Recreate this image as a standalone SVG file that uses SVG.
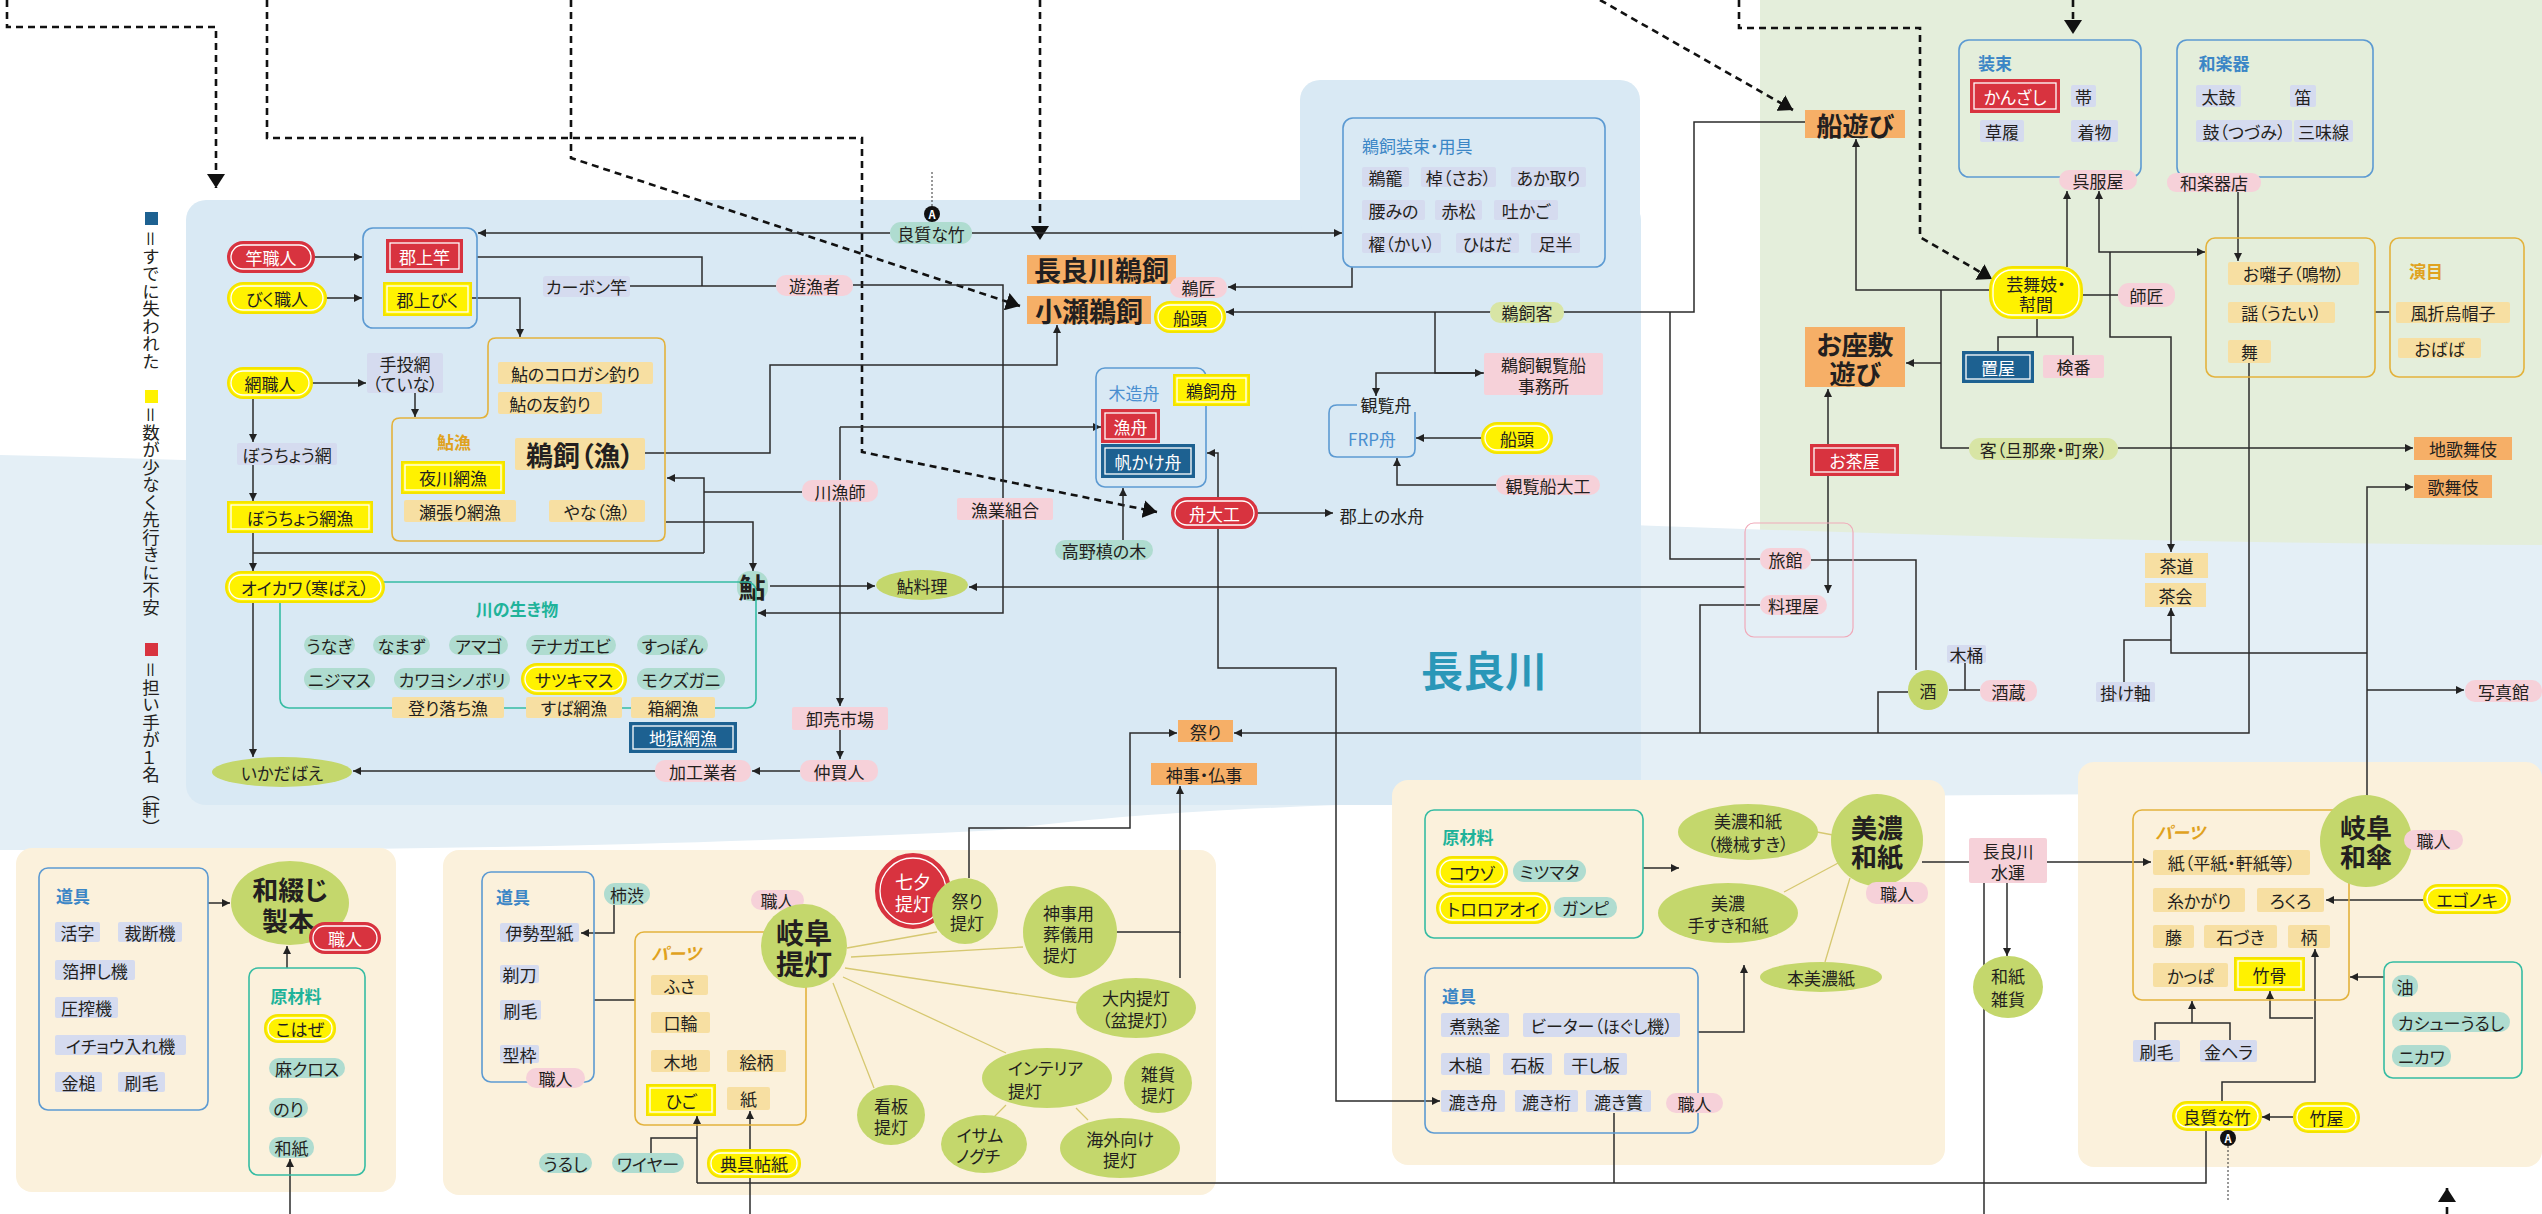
<svg xmlns="http://www.w3.org/2000/svg" width="2542" height="1214" viewBox="0 0 2542 1214">
<defs>
<style>
text{font-family:"Noto Sans CJK JP","Noto Sans",sans-serif;font-size:17px;fill:#231f20;text-anchor:middle;dominant-baseline:central;font-feature-settings:"palt"}
.b{font-weight:700}
.w{fill:#fff}
.big{font-size:27px;font-weight:700}
.h{font-weight:700;fill:#3b86c6}
.hg{font-weight:700;fill:#e0a21e}
.hi{font-weight:700;fill:#e0a21e;font-style:italic}
.ht{font-weight:700;fill:#1fb39a}
.st{text-anchor:start}
.pk{fill:#f6d1d9}
.gb{fill:#d5dbef}
.tl{fill:#afdcd0}
.bg{fill:#f7dfa2}
.or{fill:#f6af67}
.gr{fill:#c4d76c}
.lg{fill:#d8e5a5}
.ye{fill:#fff200;stroke:#f4e300;stroke-width:2}
.rd{fill:#d8333f;stroke:#d8333f;stroke-width:2}
.dk{fill:#1d6191;stroke:#1d6191;stroke-width:2}
.in{fill:none;stroke:#fff;stroke-width:1.3}
.bo{fill:none;stroke:#5c9ad2;stroke-width:1.6}
.go{fill:none;stroke:#e3b23c;stroke-width:1.6}
.to{fill:none;stroke:#36bca3;stroke-width:1.6}
.po{fill:none;stroke:#f0a9b9;stroke-width:1.2}
.ln{fill:none;stroke:#2b2b2b;stroke-width:1.5}
.tn{fill:none;stroke:#d6c870;stroke-width:1.3}
.dl{fill:none;stroke:#111;stroke-width:2.6;stroke-dasharray:7 5}
.dt{fill:none;stroke:#333;stroke-width:1;stroke-dasharray:2 2}
.vt{writing-mode:vertical-rl;text-anchor:start;font-size:17.5px}
</style>
<marker id="ar" viewBox="0 0 10 10" refX="10" refY="5" markerWidth="8" markerHeight="8" markerUnits="userSpaceOnUse" orient="auto-start-reverse"><path d="M0,0 L10,5 L0,10 z" fill="#222"/></marker>
<marker id="ad" viewBox="0 0 14 18" refX="14" refY="9" markerWidth="14" markerHeight="18" markerUnits="userSpaceOnUse" orient="auto"><path d="M0,0 L14,9 L0,18 z" fill="#111"/></marker>
</defs>

<g id="background">
<rect x="0" y="0" width="2542" height="1214" fill="#ffffff"/>
<rect x="1760" y="0" width="782" height="610" fill="#e4eedb"/>
<path d="M0,455 C700,470 1500,540 2542,545 V790 C1800,800 1300,790 1000,830 C600,850 300,850 0,850 Z" fill="#e4eff6"/>
<rect x="186" y="200" width="1455" height="605" rx="20" fill="#d9e9f4"/>
<rect x="1300" y="80" width="340" height="160" rx="20" fill="#d9e9f4"/>
<rect x="16" y="848" width="380" height="344" rx="16" fill="#fbf1dc"/>
<rect x="443" y="850" width="773" height="345" rx="16" fill="#fbf1dc"/>
<rect x="1392" y="780" width="553" height="385" rx="16" fill="#fbf1dc"/>
<rect x="2078" y="762" width="464" height="405" rx="16" fill="#fbf1dc"/>
<text x="1484" y="668" style="font-size:42px;font-weight:700;fill:#2a97b8">長良川</text>
</g>

<g id="legend">
<rect x="145" y="212" width="13" height="13" fill="#1d6191"/>
<text class="vt" x="151" y="230">＝すでに失われた</text>
<rect x="145" y="390" width="13" height="13" fill="#fff200"/>
<text class="vt" x="151" y="406">＝数が少なく先行きに不安</text>
<rect x="145" y="643" width="13" height="13" fill="#d8333f"/>
<text class="vt" x="151" y="661">＝担い手が１名（軒）</text>
</g>

<g id="connectors">
<path class="dl" d="M7,0 V27 H216 V188" marker-end="url(#ad)"/>
<path class="dl" d="M267,0 V138 H862 V452 L1157,512" marker-end="url(#ad)"/>
<path class="dl" d="M571,0 V158 L1020,306" marker-end="url(#ad)"/>
<path class="dl" d="M1040,0 V240" marker-end="url(#ad)"/>
<path class="dl" d="M1600,0 L1793,110" marker-end="url(#ad)"/>
<path class="dl" d="M1739,0 V28 H1920 V237 L1992,279" marker-end="url(#ad)"/>
<path class="dl" d="M2073,0 V34" marker-end="url(#ad)"/>
<path class="dl" d="M2447,1214 V1188" marker-end="url(#ad)"/>
<path class="dt" d="M932,172 V206"/>
<path class="dt" d="M2228,1146 V1200"/>

<path class="ln" d="M314,257 H362" marker-end="url(#ar)"/>
<path class="ln" d="M326,298 H362" marker-end="url(#ar)"/>
<path class="ln" d="M890,233 H478" marker-end="url(#ar)"/>
<path class="ln" d="M972,233 H1342" marker-end="url(#ar)"/>
<path class="ln" d="M477,257 H702 V286"/>
<path class="ln" d="M630,286 H776"/>
<path class="ln" d="M853,285 H1003 V613 H758" marker-end="url(#ar)"/>
<path class="ln" d="M471,298 H520 V337" marker-end="url(#ar)"/>
<path class="ln" d="M312,383 H366" marker-end="url(#ar)"/>
<path class="ln" d="M415,393 V417" marker-end="url(#ar)"/>
<path class="ln" d="M253,398 V442" marker-end="url(#ar)"/>
<path class="ln" d="M253,465 V501" marker-end="url(#ar)"/>
<path class="ln" d="M253,532 V571" marker-end="url(#ar)"/>
<path class="ln" d="M253,602 V757" marker-end="url(#ar)"/>
<path class="ln" d="M802,492 H704"/>
<path class="ln" d="M704,553 V478 H667" marker-end="url(#ar)"/>
<path class="ln" d="M704,553 H253"/>
<path class="ln" d="M645,453 H770 V365 H1057 V325" marker-end="url(#ar)"/>
<path class="ln" d="M666,522 H753 V571" marker-end="url(#ar)"/>
<path class="ln" d="M840,427 V706" marker-end="url(#ar)"/>
<path class="ln" d="M840,427 H1101" marker-end="url(#ar)"/>
<path class="ln" d="M840,730 V759" marker-end="url(#ar)"/>
<path class="ln" d="M800,771 H752" marker-end="url(#ar)"/>
<path class="ln" d="M655,771 H353" marker-end="url(#ar)"/>
<path class="ln" d="M770,586 H875" marker-end="url(#ar)"/>
<path class="ln" d="M1745,587 H969" marker-end="url(#ar)"/>
<path class="ln" d="M1123,540 V488" marker-end="url(#ar)"/>
<path class="ln" d="M1207,453 H1218 V668 H1336 V1101 H1440" marker-start="url(#ar)" marker-end="url(#ar)"/>
<path class="ln" d="M1257,513 H1333" marker-end="url(#ar)"/>
<path class="ln" d="M1352,267 V287 H1228" marker-end="url(#ar)"/>
<path class="ln" d="M1805,122 H1694 V312 H1226" marker-end="url(#ar)"/>
<path class="ln" d="M1435,312 V373 H1483" marker-end="url(#ar)"/>
<path class="ln" d="M1484,373 H1376 V396" marker-end="url(#ar)"/>
<path class="ln" d="M1482,438 H1416" marker-end="url(#ar)"/>
<path class="ln" d="M1496,485 H1397 V458" marker-end="url(#ar)"/>
<path class="ln" d="M1760,559 H1670 V312"/>
<path class="ln" d="M1990,290 H1856 V139" marker-end="url(#ar)"/>
<path class="ln" d="M1941,290 V448 H1969"/>
<path class="ln" d="M1941,363 H1906" marker-end="url(#ar)"/>
<path class="ln" d="M1828,389 V593" marker-start="url(#ar)" marker-end="url(#ar)"/>
<path class="ln" d="M1811,560 H1916 V670"/>
<path class="ln" d="M1760,605 H1700 V733"/>
<path class="ln" d="M1908,692 H1878 V733"/>
<path class="ln" d="M2249,363 V733 H1234" marker-end="url(#ar)"/>
<path class="ln" d="M1949,690 H1980 M1965,663 V690"/>
<path class="ln" d="M2067,267 V191" marker-end="url(#ar)"/>
<path class="ln" d="M2099,191 V252 H2205" marker-start="url(#ar)" marker-end="url(#ar)"/>
<path class="ln" d="M2110,252 V337 H2171 V552" marker-end="url(#ar)"/>
<path class="ln" d="M2082,295 H2118"/>
<path class="ln" d="M2037,318 V337 M1998,352 V337 H2073 V355"/>
<path class="ln" d="M2238,192 V261" marker-end="url(#ar)"/>
<path class="ln" d="M2375,312 H2390"/>
<path class="ln" d="M2118,448 H2413" marker-end="url(#ar)"/>
<path class="ln" d="M2367,797 V487 H2413" marker-end="url(#ar)"/>
<path class="ln" d="M2367,653 H2171 V608" marker-end="url(#ar)"/>
<path class="ln" d="M2367,690 H2464" marker-end="url(#ar)"/>
<path class="ln" d="M2124,682 V640 H2171"/>
<path class="ln" d="M208,903 H230" marker-end="url(#ar)"/>
<path class="ln" d="M287,968 V946" marker-end="url(#ar)"/>
<path class="ln" d="M290,1214 V1159" marker-end="url(#ar)"/>
<path class="ln" d="M614,905 V933 H581" marker-end="url(#ar)"/>
<path class="ln" d="M594,1000 H635"/>
<path class="ln" d="M651,1153 V1138 H697"/>
<path class="ln" d="M697,1183 V1116" marker-end="url(#ar)"/>
<path class="ln" d="M750,1214 V1111" marker-end="url(#ar)"/>
<path class="ln" d="M697,1183 H2206 V1130"/>
<path class="ln" d="M1614,1113 V1183"/>
<path class="ln" d="M969,878 V828 H1130 V733 H1177" marker-end="url(#ar)"/>
<path class="ln" d="M1116,932 H1180 V786" marker-end="url(#ar)"/>
<path class="ln" d="M1180,932 V978"/>
<path class="ln" d="M1643,868 H1679" marker-end="url(#ar)"/>
<path class="ln" d="M1698,1032 H1744 V965" marker-end="url(#ar)"/>
<path class="ln" d="M1922,862 H1969"/>
<path class="ln" d="M2047,862 H2151" marker-end="url(#ar)"/>
<path class="ln" d="M2007,883 V956" marker-end="url(#ar)"/>
<path class="ln" d="M1984,883 V1214"/>
<path class="ln" d="M2424,900 H2326" marker-end="url(#ar)"/>
<path class="ln" d="M2384,977 H2350" marker-end="url(#ar)"/>
<path class="ln" d="M2155,1040 V1023 H2230 V1040"/>
<path class="ln" d="M2192,1023 V1001" marker-end="url(#ar)"/>
<path class="ln" d="M2222,1102 V1082 H2315 V949" marker-end="url(#ar)"/>
<path class="ln" d="M2313,1018 H2270 V991" marker-end="url(#ar)"/>
<path class="ln" d="M2294,1117 H2262" marker-end="url(#ar)"/>
<path class="tn" d="M847,948 L937,932 M851,957 L1023,947 M845,968 L1078,1003 M843,977 L1006,1053 M833,983 L874,1088 M1006,1105 L994,1117 M1076,1108 L1088,1120"/>
<path class="tn" d="M1833,835 L1817,832 M1840,862 L1784,892 M1850,878 L1825,962"/>
</g>

<g id="n-group-gujo"><rect class="bo" x="363" y="228" width="114" height="100" rx="10" fill="#e4f0f8"/></g>
<g id="n-saoshokunin"><rect class="rd" x="228" y="242" width="86" height="30" rx="15"/><rect class="in" x="231" y="245" width="80" height="24" rx="12"/><text class="w" x="271" y="257">竿職人</text></g>
<g id="n-bikushokunin"><rect class="ye" x="228" y="283" width="98" height="30" rx="15"/><rect class="in" x="231" y="286" width="92" height="24" rx="12"/><text x="277" y="298">びく職人</text></g>
<g id="n-gujozao"><rect class="rd" x="387" y="240" width="75" height="32"/><rect class="in" x="390" y="243" width="69" height="26"/><text class="w" x="424.5" y="256">郡上竿</text></g>
<g id="n-gujobiku"><rect class="ye" x="384" y="283" width="87" height="32"/><rect class="in" x="387" y="286" width="81" height="26"/><text x="427.5" y="299">郡上びく</text></g>
<g id="n-carbon"><rect class="gb" x="543" y="276" width="87" height="21" rx="3"/><text x="586.5" y="286.5">カーボン竿</text></g>
<g id="n-yugyosha"><rect class="pk" x="776" y="275" width="77" height="21" rx="10"/><text x="814.5" y="285.5">遊漁者</text></g>
<g id="n-take1"><rect class="tl" x="890" y="222" width="82" height="22" rx="11"/><text x="931" y="233">良質な竹</text><circle cx="932" cy="214" r="8" fill="#111"/><text x="932" y="214" style="font-size:11px;font-weight:700;fill:#fff">A</text></g>
<g id="n-nagaragawaukai"><rect class="or" x="1027" y="255" width="149" height="29"/><text class="big" x="1101.5" y="269.5">長良川鵜飼</text></g>
<g id="n-oseukai"><rect class="or" x="1027" y="296" width="124" height="28"/><text class="big" x="1089" y="310">小瀬鵜飼</text></g>
<g id="n-usho"><rect class="pk" x="1170" y="277" width="57" height="21" rx="10"/><text x="1198.5" y="287.5">鵜匠</text></g>
<g id="n-sendo1"><rect class="ye" x="1155" y="302" width="70" height="30" rx="15"/><rect class="in" x="1158" y="305" width="64" height="24" rx="12"/><text x="1190" y="317">船頭</text></g>

<g id="n-ukaisozoku">
<rect class="bo" x="1343" y="118" width="262" height="149" rx="10" fill="#e6f1f8"/>
<text class="st" x="1362" y="145" style="fill:#3b86c6">鵜飼装束・用具</text>
<rect class="gb" x="1362" y="167" width="47" height="20" rx="2"/><text x="1385.5" y="177">鵜籠</text>
<rect class="gb" x="1421" y="167" width="75" height="20" rx="2"/><text x="1458.5" y="177">棹（さお）</text>
<rect class="gb" x="1511" y="167" width="75" height="20" rx="2"/><text x="1548.5" y="177">あか取り</text>
<rect class="gb" x="1362" y="200" width="63" height="20" rx="2"/><text x="1393.5" y="210">腰みの</text>
<rect class="gb" x="1435" y="200" width="47" height="20" rx="2"/><text x="1458.5" y="210">赤松</text>
<rect class="gb" x="1494" y="200" width="64" height="20" rx="2"/><text x="1526" y="210">吐かご</text>
<rect class="gb" x="1362" y="233" width="79" height="20" rx="2"/><text x="1401.5" y="243">櫂（かい）</text>
<rect class="gb" x="1456" y="233" width="63" height="20" rx="2"/><text x="1487.5" y="243">ひはだ</text>
<rect class="gb" x="1531" y="233" width="49" height="20" rx="2"/><text x="1555.5" y="243">足半</text>
</g>
<g id="n-ukaikyaku"><rect class="lg" x="1490" y="302" width="74" height="21" rx="10"/><text x="1527" y="312.5">鵜飼客</text></g>
<g id="n-jimusho"><rect class="pk" x="1484" y="353" width="119" height="42" rx="2"/><text x="1543.5" y="364">鵜飼観覧船<tspan x="1543.5" dy="21">事務所</tspan></text></g>
<g id="n-frp"><path class="bo" d="M1357,405 H1337 Q1329,405 1329,413 V449 Q1329,457 1337,457 H1407 Q1415,457 1415,449 V412"/><text x="1386" y="404">観覧舟</text><text x="1372" y="438" style="fill:#4a8fd0">FRP舟</text></g>
<g id="n-sendo2"><rect class="ye" x="1482" y="423" width="70" height="30" rx="15"/><rect class="in" x="1485" y="426" width="64" height="24" rx="12"/><text x="1517" y="438">船頭</text></g>
<g id="n-kanransendaiku"><rect class="pk" x="1496" y="475" width="104" height="20" rx="10"/><text x="1548" y="485">観覧船大工</text></g>
<g id="n-mizubune"><text x="1382" y="515">郡上の水舟</text></g>
<g id="n-funadaiku"><rect class="rd" x="1172" y="498" width="85" height="30" rx="15"/><rect class="in" x="1175" y="501" width="79" height="24" rx="12"/><text class="w" x="1214.5" y="513">舟大工</text></g>
<g id="n-mokuzobune">
<rect class="bo" x="1096" y="368" width="110" height="119" rx="9" fill="#e4f0f8"/>
<text x="1134" y="392" style="fill:#4a8fd0">木造舟</text>
<rect class="ye" x="1174" y="375" width="75" height="30"/><rect class="in" x="1177" y="378" width="69" height="24"/><text x="1211.5" y="390">鵜飼舟</text>
<rect class="rd" x="1102" y="410" width="57" height="32"/><rect class="in" x="1105" y="413" width="51" height="26"/><text class="w" x="1130.5" y="426">漁舟</text>
<rect class="dk" x="1102" y="445" width="92" height="32"/><rect class="in" x="1105" y="448" width="86" height="26"/><text class="w" x="1148" y="461">帆かけ舟</text>
</g>
<g id="n-koyamaki"><rect class="tl" x="1055" y="540" width="98" height="20" rx="10"/><text x="1104" y="550">高野槙の木</text></g>
<g id="n-gyogyokumiai"><rect class="pk" x="957" y="498" width="96" height="22" rx="2"/><text x="1005" y="509">漁業組合</text></g>
<g id="n-kawaryoshi"><rect class="pk" x="802" y="480" width="76" height="22" rx="10"/><text x="840" y="491">川漁師</text></g>
<g id="n-oroshi"><rect class="pk" x="792" y="707" width="96" height="23" rx="2"/><text x="840" y="718.5">卸売市場</text></g>
<g id="n-nakagainin"><rect class="pk" x="800" y="760" width="78" height="22" rx="10"/><text x="839" y="771">仲買人</text></g>
<g id="n-kakogyosha"><rect class="pk" x="655" y="760" width="96" height="22" rx="10"/><text x="703" y="771">加工業者</text></g>
<g id="n-ayu"><rect class="tl" x="737" y="571" width="31" height="30" rx="13"/><text class="b" x="752" y="586" style="font-size:27px">鮎</text></g>
<g id="n-ayuryori"><ellipse class="gr" cx="922" cy="585" rx="46" ry="15"/><text x="922" y="585">鮎料理</text></g>

<g id="n-ayuryo">
<path class="go" d="M496,338 H657 Q665,338 665,346 V533 Q665,541 657,541 H400 Q392,541 392,533 V426 Q392,418 400,418 H480 Q488,418 488,410 V346 Q488,338 496,338 Z"/>
<rect class="bg" x="498" y="362" width="155" height="22" rx="2"/><text x="575.5" y="373">鮎のコロガシ釣り</text>
<rect class="bg" x="498" y="392" width="104" height="22" rx="2"/><text x="550" y="403">鮎の友釣り</text>
<text class="hg" x="454" y="441">鮎漁</text>
<rect class="bg" x="515" y="438" width="130" height="32" rx="2"/><text class="big" x="580" y="454">鵜飼（漁）</text>
<rect class="ye" x="402" y="462" width="102" height="31"/><rect class="in" x="405" y="465" width="96" height="25"/><text x="453" y="477.5">夜川網漁</text>
<rect class="bg" x="404" y="500" width="112" height="22" rx="2"/><text x="460" y="511">瀬張り網漁</text>
<rect class="bg" x="549" y="500" width="96" height="22" rx="2"/><text x="597" y="511">やな（漁）</text>
</g>
<g id="n-tenami"><rect class="gb" x="367" y="353" width="76" height="40" rx="2"/><text x="405" y="363">手投網<tspan x="405" dy="20">（ていな）</tspan></text></g>
<g id="n-amishokunin"><rect class="ye" x="228" y="368" width="84" height="30" rx="15"/><rect class="in" x="231" y="371" width="78" height="24" rx="12"/><text x="270" y="383">網職人</text></g>
<g id="n-bochoami"><rect class="gb" x="237" y="443" width="100" height="22" rx="2"/><text x="287" y="454">ぼうちょう網</text></g>
<g id="n-bochoamiryo"><rect class="ye" x="228" y="502" width="144" height="30"/><rect class="in" x="231" y="505" width="138" height="24"/><text x="300" y="517">ぼうちょう網漁</text></g>

<g id="n-kawanoikimono">
<rect class="to" x="280" y="582" width="476" height="126" rx="9"/>
<text class="ht" x="517" y="608">川の生き物</text>
<rect class="tl" x="304" y="635" width="51" height="20" rx="10"/><text x="329.5" y="645">うなぎ</text>
<rect class="tl" x="373" y="635" width="57" height="20" rx="10"/><text x="401.5" y="645">なまず</text>
<rect class="tl" x="449" y="635" width="59" height="20" rx="10"/><text x="478.5" y="645">アマゴ</text>
<rect class="tl" x="526" y="635" width="90" height="20" rx="10"/><text x="571" y="645">テナガエビ</text>
<rect class="tl" x="637" y="635" width="71" height="20" rx="10"/><text x="672.5" y="645">すっぽん</text>
<rect class="tl" x="304" y="668" width="71" height="22" rx="11"/><text x="339.5" y="679">ニジマス</text>
<rect class="tl" x="394" y="668" width="116" height="22" rx="11"/><text x="452" y="679">カワヨシノボリ</text>
<rect class="ye" x="522" y="664" width="104" height="30" rx="15"/><rect class="in" x="525" y="667" width="98" height="24" rx="12"/><text x="574" y="679">サツキマス</text>
<rect class="tl" x="637" y="668" width="88" height="22" rx="11"/><text x="681" y="679">モクズガニ</text>
<rect class="bg" x="392" y="697" width="112" height="21" rx="2"/><text x="448" y="707.5">登り落ち漁</text>
<rect class="bg" x="526" y="697" width="96" height="21" rx="2"/><text x="574" y="707.5">すば網漁</text>
<rect class="bg" x="631" y="697" width="84" height="21" rx="2"/><text x="673" y="707.5">箱網漁</text>
</g>
<g id="n-oikawa"><rect class="ye" x="226" y="572" width="158" height="30" rx="15"/><rect class="in" x="229" y="575" width="152" height="24" rx="12"/><text x="305" y="587">オイカワ（寒ばえ）</text></g>
<g id="n-jigokuami"><rect class="dk" x="630" y="723" width="106" height="29"/><rect class="in" x="633" y="726" width="100" height="23"/><text class="w" x="683" y="737.5">地獄網漁</text></g>
<g id="n-ikadabae"><ellipse class="gr" cx="282" cy="772" rx="70" ry="15"/><text x="282" y="772">いかだばえ</text></g>

<g id="n-funaasobi"><rect class="or" x="1805" y="110" width="100" height="28"/><text class="big" x="1855" y="124" style="font-size:26px">船遊び</text></g>
<g id="n-ozashiki"><rect class="or" x="1805" y="327" width="100" height="60"/><text class="big" x="1855" y="343" style="font-size:26px">お座敷<tspan x="1855" dy="29">遊び</tspan></text></g>
<g id="n-ochaya"><rect class="rd" x="1811" y="445" width="87" height="30"/><rect class="in" x="1814" y="448" width="81" height="24"/><text class="w" x="1854.5" y="460">お茶屋</text></g>
<g id="n-ryokan-box"><rect class="po" x="1745" y="523" width="108" height="114" rx="9" fill="#eef3f4"/>
<rect class="pk" x="1760" y="548" width="51" height="22" rx="10"/><text x="1785.5" y="559">旅館</text>
<rect class="pk" x="1760" y="595" width="67" height="20" rx="10"/><text x="1793.5" y="605">料理屋</text></g>
<g id="n-geimaiko"><rect class="ye" x="1990" y="267" width="92" height="51" rx="22"/><rect class="in" x="1993" y="270" width="86" height="45" rx="19"/><text x="2036" y="283">芸舞妓・<tspan x="2036" dy="20">幇間</tspan></text></g>
<g id="n-shisho"><rect class="pk" x="2118" y="283" width="57" height="24" rx="11"/><text x="2146.5" y="295">師匠</text></g>
<g id="n-okiya"><rect class="dk" x="1963" y="352" width="70" height="30"/><rect class="in" x="1966" y="355" width="64" height="24"/><text class="w" x="1998" y="367">置屋</text></g>
<g id="n-kenban"><rect class="pk" x="2043" y="355" width="61" height="23" rx="2"/><text x="2073.5" y="366.5">検番</text></g>
<g id="n-shozoku">
<rect class="bo" x="1959" y="40" width="182" height="137" rx="10"/>
<text class="h" x="1995" y="62">装束</text>
<rect class="rd" x="1971" y="80" width="88" height="32"/><rect class="in" x="1974" y="83" width="82" height="26"/><text class="w" x="2015" y="96">かんざし</text>
<rect class="gb" x="2071" y="85" width="25" height="22" rx="2"/><text x="2083.5" y="96">帯</text>
<rect class="gb" x="1980" y="120" width="44" height="22" rx="2"/><text x="2002" y="131">草履</text>
<rect class="gb" x="2071" y="120" width="47" height="22" rx="2"/><text x="2094.5" y="131">着物</text>
</g>
<g id="n-gofukuya"><rect class="pk" x="2059" y="170" width="78" height="20" rx="10"/><text x="2098" y="180">呉服屋</text></g>
<g id="n-wagakki">
<rect class="bo" x="2177" y="40" width="196" height="137" rx="10"/>
<text class="h" x="2224" y="62">和楽器</text>
<rect class="gb" x="2196" y="85" width="45" height="22" rx="2"/><text x="2218.5" y="96">太鼓</text>
<rect class="gb" x="2290" y="85" width="26" height="22" rx="2"/><text x="2303" y="96">笛</text>
<rect class="gb" x="2196" y="120" width="96" height="22" rx="2"/><text x="2244" y="131">鼓（つづみ）</text>
<rect class="gb" x="2294" y="120" width="59" height="22" rx="2"/><text x="2323.5" y="131">三味線</text>
</g>
<g id="n-wagakkiten"><rect class="pk" x="2167" y="173" width="94" height="19" rx="9"/><text x="2214" y="182.5">和楽器店</text></g>
<g id="n-ohayashi">
<rect class="go" x="2206" y="238" width="169" height="139" rx="9"/>
<rect class="bg" x="2228" y="262" width="131" height="23" rx="2"/><text x="2293.5" y="273.5">お囃子（鳴物）</text>
<rect class="bg" x="2228" y="302" width="107" height="21" rx="2"/><text x="2281.5" y="312.5">謡（うたい）</text>
<rect class="bg" x="2228" y="340" width="43" height="23" rx="2"/><text x="2249.5" y="351.5">舞</text>
</g>
<g id="n-enmoku">
<rect class="go" x="2390" y="238" width="134" height="139" rx="9"/>
<text class="hg" x="2426" y="270">演目</text>
<rect class="bg" x="2396" y="302" width="114" height="21" rx="2"/><text x="2453" y="312.5">風折烏帽子</text>
<rect class="bg" x="2398" y="338" width="83" height="20" rx="2"/><text x="2439.5" y="348">おばば</text>
</g>
<g id="n-kyaku"><rect class="lg" x="1969" y="438" width="149" height="22" rx="11"/><text x="2043.5" y="449">客（旦那衆・町衆）</text></g>
<g id="n-jikabuki"><rect class="or" x="2414" y="437" width="98" height="23"/><text x="2463" y="448.5">地歌舞伎</text></g>
<g id="n-kabuki"><rect class="or" x="2414" y="475" width="78" height="23"/><text x="2453" y="486.5">歌舞伎</text></g>
<g id="n-sado"><rect class="bg" x="2145" y="553" width="63" height="25"/><text x="2176.5" y="565.5">茶道</text></g>
<g id="n-chakai"><rect class="bg" x="2145" y="583" width="61" height="24"/><text x="2175.5" y="595">茶会</text></g>
<g id="n-kakejiku"><rect class="gb" x="2096" y="682" width="59" height="20" rx="2"/><text x="2125.5" y="692">掛け軸</text></g>
<g id="n-kioke"><rect class="gb" x="1947" y="645" width="39" height="18" rx="2"/><text x="1966.5" y="654">木桶</text></g>
<g id="n-sake"><circle class="gr" cx="1928" cy="690" r="20"/><text x="1928" y="690">酒</text></g>
<g id="n-sakagura"><rect class="pk" x="1980" y="680" width="57" height="22" rx="10"/><text x="2008.5" y="691">酒蔵</text></g>
<g id="n-shashinkan"><rect class="pk" x="2465" y="680" width="77" height="22" rx="10"/><text x="2503.5" y="691">写真館</text></g>
<g id="n-matsuri"><rect class="or" x="1178" y="720" width="55" height="22"/><text x="1205.5" y="731">祭り</text></g>
<g id="n-shinji"><rect class="or" x="1151" y="763" width="106" height="22"/><text x="1204" y="774">神事・仏事</text></g>

<g id="n-watoji-dogu">
<rect class="bo" x="39" y="868" width="169" height="242" rx="9"/>
<text class="h" x="73" y="895">道具</text>
<rect class="gb" x="55" y="922" width="45" height="20" rx="2"/><text x="77.5" y="932">活字</text>
<rect class="gb" x="118" y="922" width="64" height="20" rx="2"/><text x="150" y="932">裁断機</text>
<rect class="gb" x="55" y="960" width="80" height="20" rx="2"/><text x="95" y="970">箔押し機</text>
<rect class="gb" x="55" y="997" width="63" height="21" rx="2"/><text x="86.5" y="1007.5">圧搾機</text>
<rect class="gb" x="55" y="1035" width="131" height="20" rx="2"/><text x="120.5" y="1045">イチョウ入れ機</text>
<rect class="gb" x="55" y="1072" width="47" height="20" rx="2"/><text x="78.5" y="1082">金槌</text>
<rect class="gb" x="118" y="1072" width="47" height="20" rx="2"/><text x="141.5" y="1082">刷毛</text>
</g>
<g id="n-watoji"><ellipse class="gr" cx="290" cy="903" rx="59" ry="42"/><text class="big" x="290" y="888" style="font-size:26px">和綴じ<tspan x="288" dy="31">製本</tspan></text></g>
<g id="n-watoji-shokunin"><rect class="rd" x="310" y="923" width="70" height="30" rx="15"/><rect class="in" x="313" y="926" width="64" height="24" rx="12"/><text class="w" x="345" y="938">職人</text></g>
<g id="n-watoji-genzairyo">
<rect class="to" x="249" y="968" width="116" height="207" rx="9"/>
<text class="ht" x="296" y="995">原材料</text>
<rect class="ye" x="265" y="1015" width="70" height="27" rx="13"/><rect class="in" x="268" y="1018" width="64" height="21" rx="10"/><text x="300" y="1028.5">こはぜ</text>
<rect class="tl" x="269" y="1058" width="76" height="20" rx="10"/><text x="307" y="1068">麻クロス</text>
<rect class="tl" x="269" y="1098" width="39" height="20" rx="10"/><text x="288.5" y="1108">のり</text>
<rect class="tl" x="269" y="1137" width="45" height="21" rx="10"/><text x="291.5" y="1147.5">和紙</text>
</g>

<g id="n-chochin-dogu">
<rect class="bo" x="482" y="872" width="112" height="210" rx="9"/>
<text class="h" x="513" y="896">道具</text>
<rect class="gb" x="500" y="923" width="79" height="19" rx="2"/><text x="539.5" y="932.5">伊勢型紙</text>
<rect class="gb" x="500" y="965" width="39" height="18" rx="2"/><text x="519.5" y="974">剃刀</text>
<rect class="gb" x="500" y="1000" width="41" height="20" rx="2"/><text x="520.5" y="1010">刷毛</text>
<rect class="gb" x="500" y="1045" width="39" height="18" rx="2"/><text x="519.5" y="1054">型枠</text>
<rect class="pk" x="526" y="1068" width="59" height="20" rx="10"/><text x="555.5" y="1078">職人</text>
</g>
<g id="n-kakishibu"><rect class="tl" x="604" y="883" width="46" height="22" rx="11"/><text x="627" y="894">柿渋</text></g>
<g id="n-urushi"><rect class="tl" x="539" y="1153" width="53" height="20" rx="10"/><text x="565.5" y="1163">うるし</text></g>
<g id="n-wire"><rect class="tl" x="612" y="1153" width="72" height="20" rx="10"/><text x="648" y="1163">ワイヤー</text></g>
<g id="n-tenguchoshi"><rect class="ye" x="708" y="1150" width="92" height="27" rx="13"/><rect class="in" x="711" y="1153" width="86" height="21" rx="10"/><text x="754" y="1163.5">典具帖紙</text></g>
<g id="n-chochin-parts">
<rect class="go" x="635" y="932" width="171" height="193" rx="9"/>
<text class="hi" x="676" y="952">パーツ</text>
<rect class="bg" x="651" y="975" width="57" height="20" rx="2"/><text x="679.5" y="985">ふさ</text>
<rect class="bg" x="651" y="1012" width="59" height="21" rx="2"/><text x="680.5" y="1022.5">口輪</text>
<rect class="bg" x="651" y="1050" width="59" height="22" rx="2"/><text x="680.5" y="1061">木地</text>
<rect class="bg" x="727" y="1050" width="59" height="22" rx="2"/><text x="756.5" y="1061">絵柄</text>
<rect class="ye" x="647" y="1085" width="68" height="30"/><rect class="in" x="650" y="1088" width="62" height="24"/><text x="681" y="1100">ひご</text>
<rect class="bg" x="727" y="1087" width="43" height="23" rx="2"/><text x="748.5" y="1098.5">紙</text>
</g>
<g id="n-chochin-shokunin"><rect class="pk" x="751" y="890" width="53" height="20" rx="10"/><text x="777.5" y="900">職人</text></g>
<g id="n-gifuchochin"><ellipse class="gr" cx="804" cy="946" rx="43" ry="42"/><text class="big" x="804" y="932" style="font-size:28px">岐阜<tspan x="804" dy="31">提灯</tspan></text></g>
<g id="n-tanabata"><circle class="rd" cx="913" cy="891" r="37"/><circle class="in" cx="913" cy="891" r="33"/><text class="w" x="913" y="881" style="font-size:18px">七夕<tspan x="913" dy="22">提灯</tspan></text></g>
<g id="n-matsurichochin"><circle class="gr" cx="965" cy="911" r="33"/><text x="967" y="900">祭り<tspan x="967" dy="22">提灯</tspan></text></g>
<g id="n-shinjiyo"><ellipse class="gr" cx="1070" cy="932" rx="47" ry="46"/><text class="st" x="1043" y="912">神事用<tspan x="1043" dy="21">葬儀用</tspan><tspan x="1043" dy="21">提灯</tspan></text></g>
<g id="n-ouchi"><ellipse class="gr" cx="1136" cy="1008" rx="60" ry="30"/><text x="1136" y="997">大内提灯<tspan x="1136" dy="22">（盆提灯）</tspan></text></g>
<g id="n-interior"><ellipse class="gr" cx="1047" cy="1078" rx="65" ry="30"/><text class="st" x="1008" y="1067">インテリア<tspan x="1008" dy="23">提灯</tspan></text></g>
<g id="n-zakka"><ellipse class="gr" cx="1158" cy="1083" rx="34" ry="30"/><text x="1158" y="1073">雑貨<tspan x="1158" dy="21">提灯</tspan></text></g>
<g id="n-kanban"><ellipse class="gr" cx="891" cy="1115" rx="34" ry="30"/><text x="891" y="1105">看板<tspan x="891" dy="21">提灯</tspan></text></g>
<g id="n-isamu"><ellipse class="gr" cx="984" cy="1144" rx="43" ry="29"/><text x="980" y="1134">イサム<tspan x="978" dy="21">ノグチ</tspan></text></g>
<g id="n-kaigai"><ellipse class="gr" cx="1120" cy="1148" rx="60" ry="30"/><text x="1120" y="1138">海外向け<tspan x="1120" dy="21">提灯</tspan></text></g>

<g id="n-mino-genzairyo">
<rect class="to" x="1425" y="810" width="218" height="128" rx="9"/>
<text class="ht" x="1468" y="836">原材料</text>
<rect class="ye" x="1437" y="857" width="70" height="30" rx="15"/><rect class="in" x="1440" y="860" width="64" height="24" rx="12"/><text x="1472" y="872">コウゾ</text>
<rect class="tl" x="1513" y="860" width="73" height="22" rx="11"/><text x="1549.5" y="871">ミツマタ</text>
<rect class="ye" x="1437" y="893" width="113" height="30" rx="15"/><rect class="in" x="1440" y="896" width="107" height="24" rx="12"/><text x="1493.5" y="908">トロロアオイ</text>
<rect class="tl" x="1554" y="897" width="63" height="21" rx="10"/><text x="1585.5" y="907.5">ガンピ</text>
</g>
<g id="n-mino-dogu">
<rect class="bo" x="1425" y="968" width="273" height="165" rx="9"/>
<text class="h" x="1459" y="995">道具</text>
<rect class="gb" x="1441" y="1013" width="68" height="24" rx="2"/><text x="1475" y="1025">煮熟釜</text>
<rect class="gb" x="1523" y="1013" width="157" height="24" rx="2"/><text x="1601.5" y="1025">ビーター（ほぐし機）</text>
<rect class="gb" x="1441" y="1053" width="49" height="22" rx="2"/><text x="1465.5" y="1064">木槌</text>
<rect class="gb" x="1503" y="1053" width="49" height="22" rx="2"/><text x="1527.5" y="1064">石板</text>
<rect class="gb" x="1564" y="1053" width="63" height="22" rx="2"/><text x="1595.5" y="1064">干し板</text>
<rect class="gb" x="1441" y="1090" width="64" height="22" rx="2"/><text x="1473" y="1101">漉き舟</text>
<rect class="gb" x="1515" y="1090" width="63" height="22" rx="2"/><text x="1546.5" y="1101">漉き桁</text>
<rect class="gb" x="1586" y="1090" width="65" height="22" rx="2"/><text x="1618.5" y="1101">漉き簀</text>
<rect class="pk" x="1666" y="1093" width="57" height="20" rx="10"/><text x="1694.5" y="1103">職人</text>
</g>
<g id="n-kikaisuki"><ellipse class="gr" cx="1748" cy="832" rx="70" ry="28"/><text x="1748" y="820">美濃和紙<tspan x="1748" dy="23">（機械すき）</tspan></text></g>
<g id="n-tesuki"><ellipse class="gr" cx="1728" cy="913" rx="70" ry="30"/><text x="1728" y="902">美濃<tspan x="1728" dy="22">手すき和紙</tspan></text></g>
<g id="n-honminoshi"><ellipse class="gr" cx="1821" cy="977" rx="61" ry="15"/><text x="1821" y="977">本美濃紙</text></g>
<g id="n-minowashi"><circle class="gr" cx="1877" cy="840" r="46"/><text class="big" x="1877" y="826" style="font-size:26px">美濃<tspan x="1877" dy="29">和紙</tspan></text></g>
<g id="n-mino-shokunin"><rect class="pk" x="1866" y="882" width="62" height="22" rx="10"/><text x="1897" y="893">職人</text></g>
<g id="n-suiun"><rect class="pk" x="1969" y="838" width="78" height="45" rx="2"/><text x="2008" y="850">長良川<tspan x="2008" dy="21">水運</tspan></text></g>
<g id="n-washizakka"><ellipse class="gr" cx="2008" cy="987" rx="35" ry="31"/><text x="2008" y="975">和紙<tspan x="2008" dy="23">雑貨</tspan></text></g>

<g id="n-wagasa-parts">
<rect class="go" x="2133" y="810" width="216" height="190" rx="9"/>
<text class="hi" x="2180" y="831">パーツ</text>
<rect class="bg" x="2153" y="850" width="157" height="25" rx="2"/><text x="2231.5" y="862.5">紙（平紙・軒紙等）</text>
<rect class="bg" x="2153" y="888" width="92" height="24" rx="2"/><text x="2199" y="900">糸かがり</text>
<rect class="bg" x="2257" y="888" width="67" height="24" rx="2"/><text x="2290.5" y="900">ろくろ</text>
<rect class="bg" x="2153" y="925" width="41" height="23" rx="2"/><text x="2173.5" y="936.5">藤</text>
<rect class="bg" x="2204" y="925" width="73" height="23" rx="2"/><text x="2240.5" y="936.5">石づき</text>
<rect class="bg" x="2288" y="925" width="42" height="23" rx="2"/><text x="2309" y="936.5">柄</text>
<rect class="bg" x="2153" y="963" width="75" height="24" rx="2"/><text x="2190.5" y="975">かっぱ</text>
<rect class="ye" x="2235" y="958" width="69" height="32"/><rect class="in" x="2238" y="961" width="63" height="26"/><text x="2269.5" y="974">竹骨</text>
</g>
<g id="n-wagasa"><circle class="gr" cx="2366" cy="841" r="46"/><text class="big" x="2366" y="826" style="font-size:26px">岐阜<tspan x="2366" dy="29">和傘</tspan></text></g>
<g id="n-wagasa-shokunin"><rect class="pk" x="2404" y="830" width="59" height="20" rx="10"/><text x="2433.5" y="840">職人</text></g>
<g id="n-egonoki"><rect class="ye" x="2424" y="885" width="86" height="28" rx="14"/><rect class="in" x="2427" y="888" width="80" height="22" rx="11"/><text x="2467" y="899">エゴノキ</text></g>
<g id="n-abura">
<rect class="to" x="2384" y="962" width="138" height="116" rx="9"/>
<rect class="tl" x="2392" y="975" width="26" height="22" rx="10"/><text x="2405" y="986">油</text>
<rect class="tl" x="2392" y="1012" width="118" height="20" rx="10"/><text x="2451" y="1022">カシューうるし</text>
<rect class="tl" x="2392" y="1045" width="59" height="22" rx="10"/><text x="2421.5" y="1056">ニカワ</text>
</g>
<g id="n-hake"><rect class="gb" x="2133" y="1040" width="47" height="22" rx="2"/><text x="2156.5" y="1051">刷毛</text></g>
<g id="n-kanehera"><rect class="gb" x="2200" y="1040" width="57" height="22" rx="2"/><text x="2228.5" y="1051">金ヘラ</text></g>
<g id="n-take2"><rect class="ye" x="2173" y="1102" width="88" height="28" rx="14"/><rect class="in" x="2176" y="1105" width="82" height="22" rx="11"/><text x="2217" y="1116">良質な竹</text><circle cx="2228" cy="1138" r="8" fill="#111"/><text x="2228" y="1138" style="font-size:11px;font-weight:700;fill:#fff">A</text></g>
<g id="n-takeya"><rect class="ye" x="2294" y="1103" width="65" height="29" rx="14"/><rect class="in" x="2297" y="1106" width="59" height="23" rx="11"/><text x="2326.5" y="1117.5">竹屋</text></g>
</svg>
